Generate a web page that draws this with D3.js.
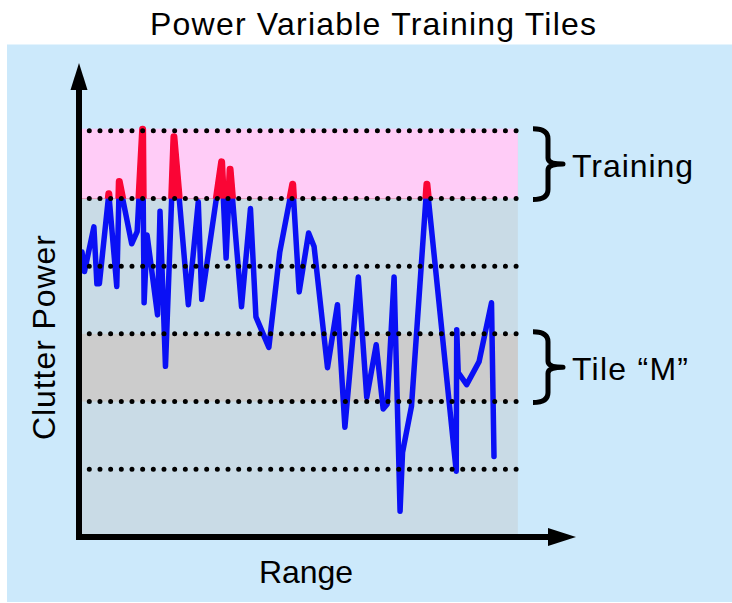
<!DOCTYPE html>
<html>
<head>
<meta charset="utf-8">
<script src="https://cdn.jsdelivr.net/npm/d3@7"></script>
<style>
  html, body { margin: 0; padding: 0; background: #ffffff; }
  svg { display: block; font-family: "Liberation Sans", Arial, sans-serif; }
</style>
</head>
<body>
<svg id="chart" width="732" height="603"></svg>
<script>
// ---- data ----
const titleText = "Power Variable Training Tiles";
const xLabel = "Range";
const yLabel = "Clutter Power";
// range position (0-100) and clutter power (levels 0-7)
const rangePos = [0.6, 1.1, 3.0, 3.6, 4.1, 6.0, 7.6, 8.1, 10.6, 11.7, 12.8, 13.1, 13.7, 15.8, 16.3, 17.4,
  19.1, 22.0, 24.0, 24.7, 28.7, 29.6, 30.4, 32.7, 34.5, 35.6, 38.2, 40.4, 43.0, 44.3, 46.2, 47.3,
  50.0, 52.0, 53.5, 56.2, 57.9, 59.8, 61.2, 62.0, 63.4, 64.6, 65.1, 66.9, 70.0, 75.9, 76.0, 76.3,
  78.0, 80.5, 83.0, 83.5];
const clutterPower = [4.21, 3.92, 4.58, 3.74, 3.74, 5.07, 3.70, 5.25, 4.33, 4.51, 6.02, 3.46, 4.46, 3.28, 4.81, 2.52,
  5.91, 3.43, 4.95, 3.51, 5.54, 4.12, 5.43, 3.40, 4.85, 3.25, 2.80, 4.21, 5.21, 3.62, 4.49, 4.29,
  2.50, 3.43, 1.62, 3.84, 2.06, 2.84, 1.89, 1.96, 3.84, 0.38, 1.25, 1.93, 5.21, 0.97, 3.06, 2.43,
  2.25, 2.59, 3.46, 1.19];
const dottedLevels = [1, 2, 3, 4, 5, 6];
const trainingBand = [5, 6];
const tileBand = [2, 3];
const bandLabels = ["Training", "Tile \u201CM\u201D"];
const regionEnd = 88.3;

// ---- scales ----
const x = d3.scaleLinear().domain([0, 100]).range([79, 576]);
const y = d3.scaleLinear().domain([0, 7]).range([537, 63]);

const svg = d3.select("#chart");

// panel background
svg.append("rect").attr("x", 7).attr("y", 44.5).attr("width", 732 - 7).attr("height", 602 - 44.5)
  .attr("fill", "#cce9fb");

// grey plot region
svg.append("rect").attr("x", x(0.5)).attr("y", y(6)).attr("width", x(regionEnd) - x(0.5)).attr("height", y(0) - y(6))
  .attr("fill", "#c9dbe6");
// training band (pink)
svg.append("rect").attr("x", x(0.5)).attr("y", y(trainingBand[1]) - 2).attr("width", x(regionEnd) - x(0.5))
  .attr("height", y(trainingBand[0]) - y(trainingBand[1]) + 2).attr("fill", "#ffccf7");
// tile band (grey)
svg.append("rect").attr("x", x(0.5)).attr("y", y(tileBand[1])).attr("width", x(regionEnd) - x(0.5))
  .attr("height", y(tileBand[0]) - y(tileBand[1])).attr("fill", "#cccccc");

// data
const pts = rangePos.map((r, i) => [r, clutterPower[i]]);

const line = d3.line().x(d => x(d[0])).y(d => y(d[1]));
svg.append("path").datum(pts).attr("d", line)
  .attr("fill", "none").attr("stroke", "#0a10f5").attr("stroke-width", 5.5)
  .attr("stroke-linejoin", "round").attr("stroke-linecap", "round");

// red exceedance above training threshold
svg.append("clipPath").attr("id", "above").append("rect")
  .attr("x", 0).attr("y", 0).attr("width", 732).attr("height", y(trainingBand[0]));
const area = d3.area().x(d => x(d[0])).y0(y(trainingBand[0])).y1(d => y(d[1]));
const red = svg.append("g").attr("clip-path", "url(#above)");
red.append("path").datum(pts).attr("d", area).attr("fill", "#fa0535");
red.append("path").datum(pts).attr("d", line).attr("fill", "none")
  .attr("stroke", "#fa0535").attr("stroke-width", 7).attr("stroke-linejoin", "round");

// dotted levels
svg.selectAll("line.lvl").data(dottedLevels).enter().append("line").attr("class", "lvl")
  .attr("x1", 89.3).attr("x2", 517).attr("y1", d => y(d)).attr("y2", d => y(d))
  .attr("stroke", "#000").attr("stroke-width", 5).attr("stroke-linecap", "round")
  .attr("stroke-dasharray", "0 10.67");

// axes with arrows
svg.append("line").attr("x1", x(0)).attr("x2", x(0)).attr("y1", y(0) + 3).attr("y2", y(7) + 25)
  .attr("stroke", "#000").attr("stroke-width", 6);
svg.append("path").attr("d", `M${x(0)},${y(7)} L${x(0) - 8.5},${y(7) + 27} L${x(0) + 8.5},${y(7) + 27} Z`).attr("fill", "#000");
svg.append("line").attr("x1", x(0) - 3).attr("x2", x(100) - 26).attr("y1", y(0)).attr("y2", y(0))
  .attr("stroke", "#000").attr("stroke-width", 6);
svg.append("path").attr("d", `M${x(100)},${y(0)} L${x(100) - 28},${y(0) - 9} L${x(100) - 28},${y(0) + 9} Z`).attr("fill", "#000");

// braces
function brace(top, bot) {
  const x0 = 533, xm = 548, tip = 563, ym = (top + bot) / 2, r = 10;
  return `M${x0},${top} Q${xm},${top} ${xm},${top + r} L${xm},${ym - 6} Q${xm},${ym} ${tip},${ym}` +
         ` Q${xm},${ym} ${xm},${ym + 6} L${xm},${bot - r} Q${xm},${bot} ${x0},${bot}`;
}
[trainingBand, tileBand].forEach((b, i) => {
  svg.append("path").attr("d", brace(y(b[1]) - 2, y(b[0]) + 1))
    .attr("fill", "none").attr("stroke", "#000").attr("stroke-width", 5).attr("stroke-linejoin", "round");
  svg.append("text").attr("x", 572).attr("y", (y(b[1]) + y(b[0])) / 2 + 12.5)
    .attr("font-size", 32).attr("fill", "#000")
    .attr("textLength", i === 0 ? 121 : 116).attr("lengthAdjust", "spacing")
    .text(bandLabels[i]);
});

// texts
svg.append("text").attr("x", 150).attr("y", 35).attr("font-size", 32).attr("fill", "#000")
  .attr("textLength", 446).attr("lengthAdjust", "spacing").text(titleText);
svg.append("text").attr("x", 259).attr("y", 583).attr("font-size", 32).attr("fill", "#000")
  .attr("textLength", 94).attr("lengthAdjust", "spacing").text(xLabel);
svg.append("text").attr("transform", "translate(55,337.5) rotate(-90)").attr("text-anchor", "middle")
  .attr("font-size", 32).attr("fill", "#000")
  .attr("textLength", 205).attr("lengthAdjust", "spacing").text(yLabel);
</script>
</body>
</html>
